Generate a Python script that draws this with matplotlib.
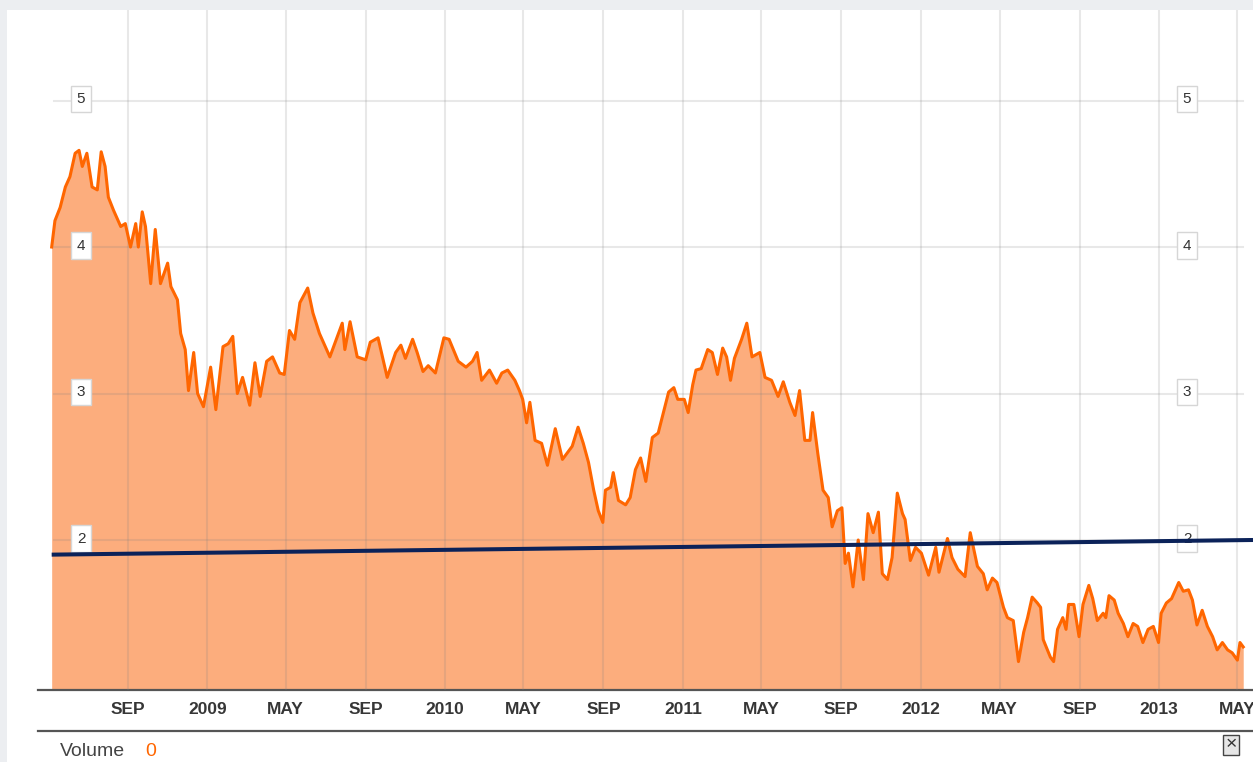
import pandas as pd
import matplotlib.pyplot as plt
import matplotlib.dates as mdates
from matplotlib.patches import Rectangle
from matplotlib.lines import Line2D

plt.rcParams['font.family'] = ['Liberation Sans', 'DejaVu Sans']

# price series
dates = [
    "2008-05-07", "2008-05-12", "2008-05-20", "2008-05-28", "2008-06-04", "2008-06-12",
    "2008-06-18", "2008-06-23", "2008-06-30", "2008-07-08", "2008-07-16", "2008-07-22",
    "2008-07-28", "2008-08-02", "2008-08-10", "2008-08-21", "2008-08-28", "2008-09-05",
    "2008-09-13", "2008-09-17", "2008-09-23", "2008-09-28", "2008-10-06", "2008-10-13",
    "2008-10-21", "2008-11-01", "2008-11-06", "2008-11-16", "2008-11-21", "2008-11-28",
    "2008-12-03", "2008-12-11", "2008-12-17", "2008-12-26", "2009-01-06", "2009-01-14",
    "2009-01-25", "2009-02-02", "2009-02-09", "2009-02-16", "2009-02-24", "2009-03-07",
    "2009-03-15", "2009-03-23", "2009-04-02", "2009-04-11", "2009-04-22", "2009-04-29",
    "2009-05-07", "2009-05-15", "2009-05-23", "2009-06-04", "2009-06-12", "2009-06-22",
    "2009-07-08", "2009-07-27", "2009-07-31", "2009-08-08", "2009-08-19", "2009-09-01",
    "2009-09-08", "2009-09-20", "2009-10-04", "2009-10-17", "2009-10-25", "2009-11-01",
    "2009-11-12", "2009-11-19", "2009-11-28", "2009-12-06", "2009-12-17", "2009-12-30",
    "2010-01-07", "2010-01-21", "2010-02-02", "2010-02-12", "2010-02-19", "2010-02-26",
    "2010-03-10", "2010-03-21", "2010-03-29", "2010-04-07", "2010-04-18", "2010-04-25",
    "2010-04-30", "2010-05-06", "2010-05-11", "2010-05-19", "2010-05-29", "2010-06-07",
    "2010-06-19", "2010-06-30", "2010-07-15", "2010-07-24", "2010-08-01", "2010-08-09",
    "2010-08-17", "2010-08-24", "2010-08-31", "2010-09-04", "2010-09-12", "2010-09-16",
    "2010-09-24", "2010-10-05", "2010-10-12", "2010-10-20", "2010-10-28", "2010-11-05",
    "2010-11-15", "2010-11-24", "2010-12-02", "2010-12-10", "2010-12-18", "2010-12-24",
    "2011-01-03", "2011-01-09", "2011-01-16", "2011-01-21", "2011-01-29", "2011-02-08",
    "2011-02-15", "2011-02-23", "2011-03-03", "2011-03-09", "2011-03-15", "2011-03-21",
    "2011-04-01", "2011-04-09", "2011-04-17", "2011-04-29", "2011-05-07", "2011-05-17",
    "2011-05-27", "2011-06-04", "2011-06-14", "2011-06-22", "2011-06-29", "2011-07-07",
    "2011-07-15", "2011-07-19", "2011-07-27", "2011-08-04", "2011-08-12", "2011-08-18",
    "2011-08-26", "2011-09-02", "2011-09-07", "2011-09-12", "2011-09-19", "2011-09-27",
    "2011-10-05", "2011-10-12", "2011-10-20", "2011-10-28", "2011-11-03", "2011-11-11",
    "2011-11-18", "2011-11-26", "2011-12-04", "2011-12-08", "2011-12-16", "2011-12-24",
    "2012-01-02", "2012-01-13", "2012-01-24", "2012-01-29", "2012-02-11", "2012-02-18",
    "2012-02-27", "2012-03-09", "2012-03-17", "2012-03-28", "2012-04-06", "2012-04-12",
    "2012-04-20", "2012-04-27", "2012-05-07", "2012-05-13", "2012-05-22", "2012-05-30",
    "2012-06-07", "2012-06-13", "2012-06-20", "2012-06-28", "2012-07-03", "2012-07-07",
    "2012-07-18", "2012-07-23", "2012-07-29", "2012-08-06", "2012-08-11", "2012-08-15",
    "2012-08-23", "2012-08-31", "2012-09-06", "2012-09-15", "2012-09-21", "2012-09-28",
    "2012-10-07", "2012-10-11", "2012-10-16", "2012-10-24", "2012-10-30", "2012-11-07",
    "2012-11-14", "2012-11-22", "2012-11-29", "2012-12-07", "2012-12-15", "2012-12-23",
    "2012-12-31", "2013-01-04", "2013-01-12", "2013-01-20", "2013-01-31", "2013-02-07",
    "2013-02-15", "2013-02-21", "2013-02-28", "2013-03-08", "2013-03-16", "2013-03-24",
    "2013-03-31", "2013-04-08", "2013-04-16", "2013-04-23", "2013-05-01", "2013-05-05",
    "2013-05-10",
]
prices = [
    4.00, 4.18, 4.27, 4.41, 4.48, 4.64,
    4.66, 4.55, 4.64, 4.41, 4.39, 4.65,
    4.55, 4.34, 4.25, 4.14, 4.16, 4.00,
    4.16, 4.00, 4.24, 4.14, 3.75, 4.12,
    3.75, 3.89, 3.73, 3.64, 3.41, 3.30,
    3.02, 3.28, 3.00, 2.91, 3.18, 2.89,
    3.32, 3.34, 3.39, 3.00, 3.11, 2.92,
    3.21, 2.98, 3.22, 3.25, 3.14, 3.13,
    3.43, 3.37, 3.62, 3.72, 3.55, 3.41,
    3.25, 3.48, 3.30, 3.49, 3.25, 3.23,
    3.35, 3.38, 3.11, 3.28, 3.33, 3.24,
    3.37, 3.28, 3.15, 3.19, 3.14, 3.38,
    3.37, 3.22, 3.18, 3.22, 3.28, 3.09,
    3.16, 3.07, 3.14, 3.16, 3.09, 3.02,
    2.96, 2.80, 2.94, 2.68, 2.66, 2.51,
    2.76, 2.55, 2.64, 2.77, 2.66, 2.53,
    2.34, 2.20, 2.12, 2.34, 2.36, 2.46,
    2.27, 2.24, 2.29, 2.48, 2.56, 2.40,
    2.70, 2.73, 2.87, 3.01, 3.04, 2.96,
    2.96, 2.87, 3.06, 3.16, 3.17, 3.30,
    3.28, 3.13, 3.31, 3.25, 3.09, 3.24,
    3.37, 3.48, 3.25, 3.28, 3.11, 3.09,
    2.98, 3.08, 2.94, 2.85, 3.02, 2.68,
    2.68, 2.87, 2.59, 2.34, 2.29, 2.09,
    2.20, 2.22, 1.84, 1.91, 1.68, 2.00,
    1.73, 2.18, 2.05, 2.19, 1.77, 1.73,
    1.88, 2.32, 2.18, 2.14, 1.86, 1.95,
    1.91, 1.76, 1.95, 1.78, 2.01, 1.88,
    1.80, 1.75, 2.05, 1.82, 1.77, 1.66,
    1.74, 1.71, 1.54, 1.47, 1.45, 1.17,
    1.37, 1.47, 1.61, 1.57, 1.54, 1.32,
    1.20, 1.17, 1.39, 1.47, 1.39, 1.56,
    1.56, 1.34, 1.56, 1.69, 1.60, 1.45,
    1.50, 1.47, 1.62, 1.59, 1.50, 1.43,
    1.34, 1.43, 1.41, 1.30, 1.39, 1.41,
    1.30, 1.50, 1.57, 1.60, 1.71, 1.65,
    1.66, 1.59, 1.42, 1.52, 1.41, 1.34,
    1.25, 1.30, 1.25, 1.23, 1.18, 1.30,
    1.27,
]

# straight trend line drawn across the chart
trend_dates = ["2008-05-07", "2013-05-25"]
trend_values = [1.90, 2.00]

y_ticks = [2, 3, 4, 5]
x_ticks = pd.date_range("2008-09-01", "2013-05-01", freq="4MS")

d = pd.to_datetime(dates)
td = pd.to_datetime(trend_dates)

W, H = 1253, 762
fig = plt.figure(figsize=(W / 100, H / 100), dpi=100, facecolor="#eceef1")
fig.patches.append(Rectangle((7 / W, 0), 1, (H - 10) / H, transform=fig.transFigure,
                             facecolor="white", edgecolor="none", zorder=-1))

ax = fig.add_axes([38 / W, 72 / H, 1215 / W, 680 / H])
ax.set_facecolor("none")

ax.fill_between(d, prices, 0, color="#fcad7d", linewidth=0, zorder=1)
ax.plot(d, prices, color="#ff6600", lw=2.2, zorder=3)
ax.plot(td, trend_values, color="#0b2259", lw=2.9, zorder=6, solid_capstyle="butt")

ax.set_xlim(pd.Timestamp("2008-04-16"), pd.Timestamp("2013-05-25"))
ax.set_ylim(0.976, 5.618)

# x ticks every 4 months, year shown for January
ax.set_xticks(x_ticks)
ax.set_xticklabels([str(t.year) if t.month == 1 else t.strftime("%b").upper() for t in x_ticks])
ax.grid(axis="x", color="#808080", alpha=0.18, lw=1.5, zorder=2)
ax.set_axisbelow(False)
for v in y_ticks:
    ax.axhline(v, xmin=0.013, xmax=0.992, color="#808080", alpha=0.18, lw=1.5, zorder=2)
    for xf in (0.0354, 0.9457):
        ax.text(xf, v + 0.01, str(v), transform=ax.get_yaxis_transform(),
                ha="center", va="center", fontsize=11, color="#333333", zorder=5,
                bbox=dict(boxstyle="square,pad=0.4", facecolor="white",
                          edgecolor="#d6d6d6", lw=1))

ax.set_yticks([])
ax.tick_params(axis="x", length=0, pad=9, labelsize=12.5, labelcolor="#363636")
for lbl in ax.get_xticklabels():
    lbl.set_fontweight("bold")
for s in ("left", "right", "top"):
    ax.spines[s].set_visible(False)
ax.spines["bottom"].set_color("#555555")
ax.spines["bottom"].set_linewidth(1.6)

# bottom strip
fig.add_artist(Line2D([38 / W, 1], [31 / H, 31 / H], color="#555555", lw=1.6))
fig.text(60 / W, 10 / H, "Volume", fontsize=14, color="#444444", va="center")
fig.text(145 / W, 10 / H, "0", fontsize=14, color="#ff6600", va="center")
fig.text(1231 / W, 17 / H, "\u00d7", fontsize=14, color="#333333", ha="center", va="center",
         bbox=dict(boxstyle="square,pad=0.1", facecolor="#e6e6e6", edgecolor="#444444", lw=1))

fig.savefig("out.png", dpi=100, facecolor=fig.get_facecolor())
